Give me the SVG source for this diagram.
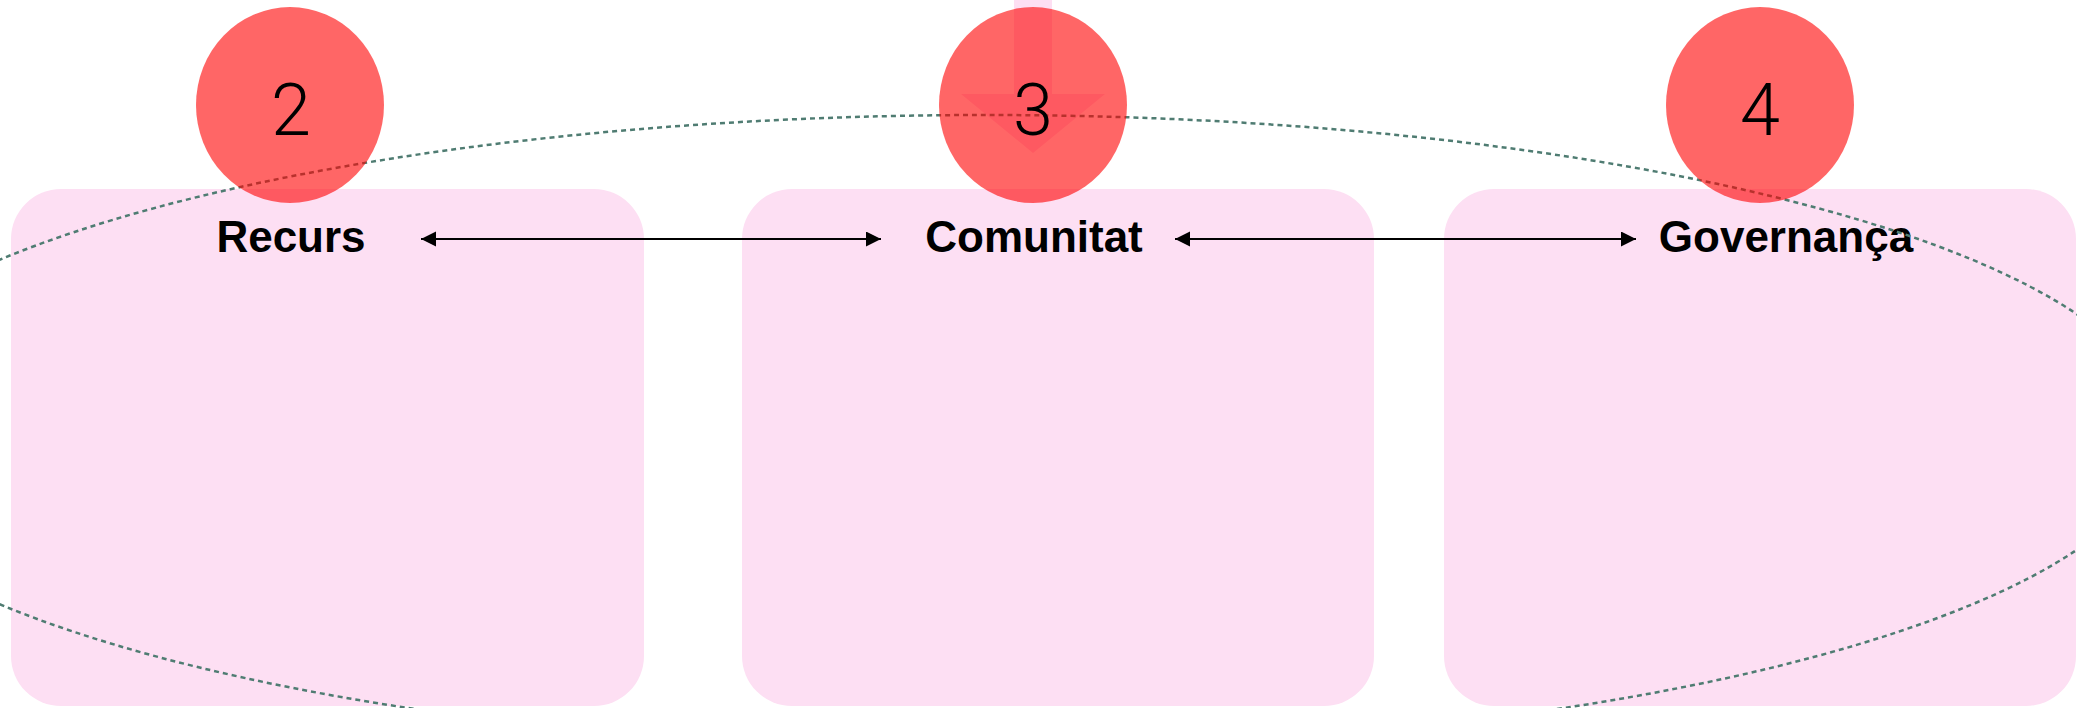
<svg xmlns="http://www.w3.org/2000/svg" width="2077" height="708" viewBox="0 0 2077 708">
  <style>
    .box { fill: #FDDFF3; }
    .label { font-family: "Liberation Sans", Arial, sans-serif; font-weight: bold; font-size: 44px; fill: #000; text-anchor: middle; }
    .badge { fill: #FF0000; fill-opacity: 0.6; }
    .num { font-family: Roboto, "Open Sans", "Liberation Sans", sans-serif; font-weight: 300; font-size: 72px; fill: #000; text-anchor: middle; }
    .scope { fill: none; stroke: #4F7C72; stroke-width: 2.5; stroke-dasharray: 5 4; }
    .conn { stroke: #000; stroke-width: 2.2; fill: none; marker-start: url(#head); marker-end: url(#head); }
  </style>
  <defs>
    <marker id="head" markerUnits="userSpaceOnUse" markerWidth="16" markerHeight="16" refX="15" refY="7.5" orient="auto-start-reverse">
      <path d="M0,0 L15,7.5 L0,15 Z" fill="#000"/>
    </marker>
  </defs>
  <rect width="2077" height="708" fill="#FFFFFF"/>

  <g id="node-recurs">
    <rect class="box" x="11" y="189" width="633" height="517" rx="50" ry="50"/>
    <text class="label" x="291" y="252">Recurs</text>
  </g>
  <g id="node-comunitat">
    <rect class="box" x="742" y="189" width="632" height="517" rx="50" ry="50"/>
    <polygon class="box" points="1014,0 1052,0 1052,94 1105,94 1033,153 961,94 1014,94"/>
    <text class="label" x="1034" y="252">Comunitat</text>
  </g>
  <g id="node-governanca">
    <rect class="box" x="1444" y="189" width="632" height="517" rx="50" ry="50"/>
    <text class="label" x="1786" y="252">Governança</text>
  </g>

  <g id="scope-ellipse">
    <ellipse class="scope" cx="986" cy="432" rx="1175" ry="317"/>
  </g>

  <g id="badge-2">
    <ellipse class="badge" cx="290" cy="105" rx="94" ry="98"/>
    <text class="num" x="291" y="135">2</text>
  </g>
  <g id="badge-3">
    <ellipse class="badge" cx="1033" cy="105" rx="94" ry="98"/>
    <text class="num" x="1033" y="135">3</text>
  </g>
  <g id="badge-4">
    <ellipse class="badge" cx="1760" cy="105" rx="94" ry="98"/>
    <text class="num" x="1760" y="135">4</text>
  </g>

  <g id="connectors">
    <line class="conn" x1="421" y1="239" x2="881" y2="239"/>
    <line class="conn" x1="1175" y1="239" x2="1636" y2="239"/>
  </g>
</svg>
